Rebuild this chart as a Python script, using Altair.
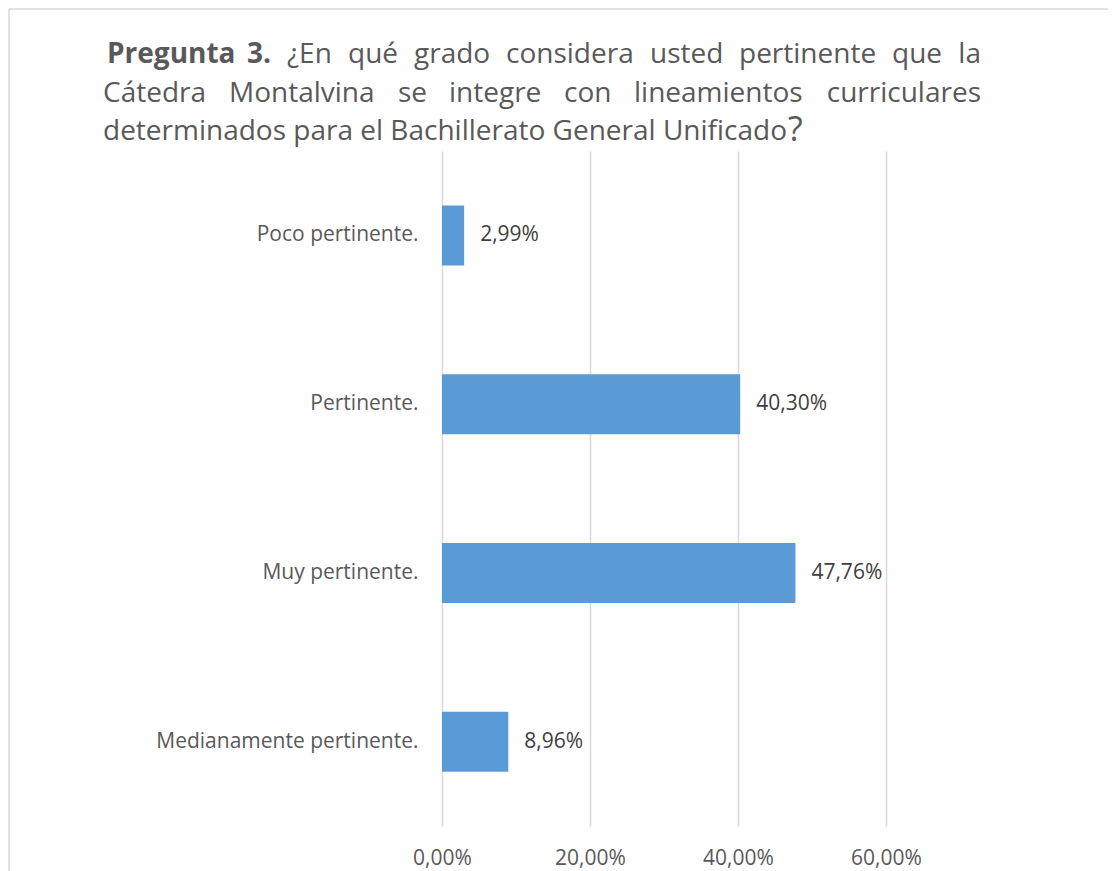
import altair as alt
import pandas as pd

# ---- data ----
categories = ["Poco pertinente.", "Pertinente.", "Muy pertinente.", "Medianamente pertinente."]
values = [2.99, 40.30, 47.76, 8.96]
x_ticks = [0, 20, 40, 60]

# ---- title text (justified lines, split into words) ----
title_bold_words = ["Pregunta", "3."]
title_line1_words = ["¿En", "qué", "grado", "considera", "usted", "pertinente", "que", "la"]
title_line2_words = ["Cátedra", "Montalvina", "se", "integre", "con", "lineamientos", "curriculares"]
title_line3 = "determinados para el Bachillerato General Unificado"
title_qmark = "?"

# layout (page pixel x of each word start; plot-left at 442, plot-top at 151)
PLOT_LEFT = 442
PLOT_TOP = 151
bold_x = [107, 247]
line1_x = [287, 348, 414, 506, 650, 739, 892, 981]
line2_x = [103, 229, 398, 449, 564, 634, 981]
FONT = "Open Sans"
TXT = "#595959"
TITLE_SIZE = 28

df = pd.DataFrame({"cat": categories, "val": values})

fmt = "replace(format(datum.value, '.2f'), '.', ',') + '%'"

base = alt.Chart(df)

bars = base.mark_bar(color="#5B9BD5", size=60).encode(
    x=alt.X(
        "val:Q",
        scale=alt.Scale(domain=[0, 60], nice=False),
        axis=alt.Axis(
            values=x_ticks, labelExpr=fmt, title=None, grid=True,
            gridColor="#D9D9D9", gridWidth=1.5, domain=False, ticks=False, tickSize=0,
            labelFont=FONT, labelFontSize=21, labelColor=TXT, labelPadding=21,
            labelFlush=False, labelAlign="center",
        ),
    ),
    y=alt.Y(
        "cat:N", sort=categories,
        scale=alt.Scale(paddingInner=0, paddingOuter=0),
        axis=alt.Axis(
            title=None, domain=False, ticks=False, tickSize=0, grid=False,
            labelFont=FONT, labelFontSize=21, labelColor=TXT, labelPadding=24,
            labelLimit=400,
        ),
    ),
)

labels = base.transform_calculate(
    lab="replace(format(datum.val, '.2f'), '.', ',') + '%'"
).mark_text(
    align="left", baseline="middle", dx=16, font=FONT, fontSize=21, color="#404040"
).encode(x="val:Q", y=alt.Y("cat:N", sort=categories), text="lab:N")

layers = [bars, labels]


def word(w, px, py, bold=False, align="left", size=TITLE_SIZE):
    return alt.Chart(pd.DataFrame({"t": [w]})).mark_text(
        align=align, baseline="alphabetic", font=FONT, fontSize=size, color=TXT,
        fontWeight="bold" if bold else "normal",
    ).encode(x=alt.value(px - PLOT_LEFT), y=alt.value(py - PLOT_TOP), text="t:N")


for w, px in zip(title_bold_words, bold_x):
    layers.append(word(w, px, 63, bold=True))
for i, (w, px) in enumerate(zip(title_line1_words, line1_x)):
    last = i == len(title_line1_words) - 1
    layers.append(word(w, px, 63, align="right" if last else "left"))
for i, (w, px) in enumerate(zip(title_line2_words, line2_x)):
    last = i == len(title_line2_words) - 1
    layers.append(word(w, px, 102, align="right" if last else "left"))
layers.append(word(title_line3, 103, 140))
layers.append(word(title_qmark, 788, 141, size=34))

# frame border (top and left)
border_top = alt.Chart(pd.DataFrame({"a": [0]})).mark_rule(color="#D9D9D9", strokeWidth=1.5).encode(
    x=alt.value(-433), x2=alt.value(700), y=alt.value(-142), y2=alt.value(-142)
)
border_left = alt.Chart(pd.DataFrame({"a": [0]})).mark_rule(color="#D9D9D9", strokeWidth=1.5).encode(
    x=alt.value(-433), x2=alt.value(-433), y=alt.value(-142), y2=alt.value(760)
)
layers = [border_top, border_left] + layers

chart = alt.layer(*layers).properties(
    width=444, height=675,
    padding={"left": 434, "top": 143, "right": 222, "bottom": 46},
    autosize="none",
).configure_view(stroke=None)

chart.save("out.html", embed_options={"renderer": "svg", "actions": False})
